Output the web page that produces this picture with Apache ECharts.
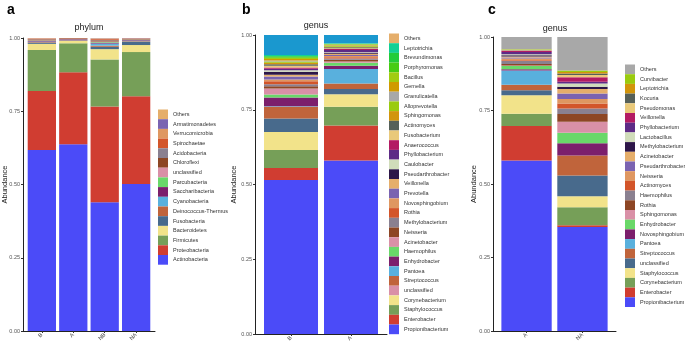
<!DOCTYPE html>
<html>
<head>
<meta charset="utf-8">
<script src="https://cdn.jsdelivr.net/npm/echarts@6/dist/echarts.min.js"></script>
<style>
html, body { margin: 0; background: #fff; }
#chart { width: 685px; height: 346px; }
</style>
</head>
<body>
<div id="chart"></div>
<script>
// taxa are listed bottom -> top of the stack
const phylumSamples = ['B', 'A', 'NB', 'NA'];
const phyla = ['Actinobacteria', 'Proteobacteria', 'Firmicutes', 'Bacteroidetes', 'Fusobacteria',
  'Deinococcus-Thermus', 'Cyanobacteria', 'Saccharibacteria', 'Parcubacteria', 'unclassified',
  'Chloroflexi', 'Acidobacteria', 'Spirochaetae', 'Verrucomicrobia', 'Armatimonadetes', 'Others'];
const phylumB  = [0.618, 0.201, 0.140, 0.021, 0.004, 0.002, 0.002, 0.002, 0.001, 0.001, 0.003, 0.001, 0.002, 0.0005, 0.0005, 0.001];
const phylumA  = [0.637, 0.246, 0.099, 0.008, 0.001, 0.001, 0.0005, 0.003, 0.0005, 0.0005, 0.002, 0.0005, 0.001, 0, 0, 0];
const phylumNB = [0.439, 0.327, 0.161, 0.035, 0.008, 0.004, 0.007, 0.003, 0.002, 0.002, 0.004, 0.002, 0.003, 0.001, 0.001, 0.001];
const phylumNA = [0.502, 0.299, 0.151, 0.024, 0.011, 0.002, 0.002, 0.002, 0.001, 0.001, 0.002, 0.001, 0.001, 0.0005, 0.0005, 0];

const genusBSamples = ['B', 'A'];
const generaB = ['Propionibacterium', 'Enterobacter', 'Staphylococcus', 'Corynebacterium', 'unclassified',
  'Streptococcus', 'Pantoea', 'Enhydrobacter', 'Haemophilus', 'Acinetobacter', 'Neisseria',
  'Methylobacterium', 'Rothia', 'Novosphingobium', 'Prevotella', 'Veillonella', 'Pseudarthrobacter',
  'Caulobacter', 'Phyllobacterium', 'Anaerococcus', 'Fusobacterium', 'Actinomyces', 'Sphingomonas',
  'Alloprevotella', 'Granulicatella', 'Gemella', 'Bacillus', 'Porphyromonas', 'Brevundimonas',
  'Leptotrichia', 'Others'];
const genusB_B = [0.515, 0.040, 0.060, 0.061, 0.045, 0.039, 0.002, 0.029, 0.010, 0.020, 0.008,
  0.006, 0.010, 0.006, 0.010, 0.006, 0.010, 0.005, 0.005, 0.004, 0.006, 0.005, 0.005,
  0.004, 0.004, 0.005, 0.004, 0.003, 0.003, 0.003, 0.067];
const genusB_A = [0.580, 0.117, 0.063, 0.042, 0.017, 0.019, 0.048, 0.011, 0.010, 0.004, 0.006,
  0.004, 0.005, 0.004, 0.003, 0.004, 0.003, 0.002, 0.008, 0.003, 0.003, 0.003, 0.002,
  0.002, 0.002, 0.002, 0.002, 0.001, 0.001, 0.001, 0.028];

const genusCSamples = ['A', 'NA'];
const generaC = ['Propionibacterium', 'Enterobacter', 'Corynebacterium', 'Staphylococcus', 'unclassified',
  'Streptococcus', 'Pantoea', 'Novosphingobium', 'Enhydrobacter', 'Sphingomonas', 'Rothia',
  'Haemophilus', 'Actinomyces', 'Neisseria', 'Pseudarthrobacter', 'Acinetobacter', 'Methylobacterium',
  'Lactobacillus', 'Phyllobacterium', 'Veillonella', 'Pseudomonas', 'Kocuria', 'Leptotrichia',
  'Curvibacter', 'Others'];
const genusC_A  = [0.580, 0.117, 0.042, 0.063, 0.017, 0.019, 0.048, 0.004, 0.011, 0.002, 0.005,
  0.010, 0.003, 0.006, 0.003, 0.004, 0.004, 0.003, 0.008, 0.004, 0.002, 0.001, 0.001, 0.001, 0.042];
const genusC_NA = [0.354, 0.006, 0.061, 0.037, 0.071, 0.068, 0.000, 0.042, 0.035, 0.038, 0.026,
  0.019, 0.017, 0.015, 0.019, 0.015, 0.008, 0.011, 0.006, 0.015, 0.008, 0.005, 0.005, 0.005, 0.114];

// same colour order for every panel, bottom -> top
const palette = ['#4b4bf8', '#d03d31', '#769f58', '#f2e38a', '#486a8c', '#c0643b', '#59b0dd', '#7c1f6c',
  '#69d869', '#d990a7', '#8d4624', '#8a8090', '#d3552a', '#df9761', '#7a63b1', '#e5ae6b', '#2d1648',
  '#d0dcba', '#5e2b86', '#b31b63', '#e9c97a', '#566059', '#d2950c', '#9acb10', '#a8a8a8', '#d09a00',
  '#a1cc12', '#46cc14', '#22cc3a', '#12d095', '#1a98cf'];

const FONT = 'Liberation Sans, Arial, sans-serif';

// visible frame of each panel (ggplot style: 0.6 category of padding on both sides)
const panels = [
  { left: 23, top: 38, width: 132, height: 293, cats: phylumSamples, nameGap: 14 },
  { left: 255, top: 35, width: 132, height: 299, cats: genusBSamples, nameGap: 17 },
  { left: 493, top: 37, width: 123, height: 294, cats: genusCSamples, nameGap: 15 }
];

const grids = [], xAxes = [], yAxes = [], series = [];

panels.forEach(function (p, gi) {
  const n = p.cats.length;
  const ticks = p.cats.map(function (c, i) { return i + 1; });
  grids.push({ left: p.left, top: p.top, width: p.width, height: p.height });
  xAxes.push({
    type: 'value', gridIndex: gi, min: 0.4, max: n + 0.6,
    axisLine: { show: true, lineStyle: { color: '#222', width: 1 } },
    axisTick: { show: true, length: 2, customValues: ticks, lineStyle: { color: '#333' } },
    axisLabel: {
      customValues: ticks, rotate: 45, fontSize: 5.5, color: '#444', fontFamily: FONT, margin: 3,
      formatter: function (v) { return p.cats[Math.round(v) - 1]; }
    },
    splitLine: { show: false }
  });
  yAxes.push({
    type: 'value', gridIndex: gi, min: 0, max: 1, interval: 0.25,
    name: 'Abundance', nameLocation: 'middle', nameGap: p.nameGap, nameMoveOverlap: false,
    nameTextStyle: { fontSize: 7.5, color: '#222', fontFamily: FONT },
    axisLine: { show: true, lineStyle: { color: '#222', width: 1 } },
    axisTick: { show: true, length: 2, lineStyle: { color: '#333' } },
    axisLabel: { fontSize: 5.5, color: '#555', fontFamily: FONT, margin: 3,
      formatter: function (v) { return v.toFixed(2); } },
    splitLine: { show: false }
  });
});

// hidden category grids that carry the stacked bars
panels.forEach(function (p, gi) {
  const n = p.cats.length;
  const unit = p.width / (n + 0.2);
  grids.push({ left: p.left + 0.1 * unit, top: p.top, width: n * unit, height: p.height });
  xAxes.push({ type: 'category', gridIndex: 3 + gi, data: p.cats, show: false });
  yAxes.push({ type: 'value', gridIndex: 3 + gi, min: 0, max: 1, show: false, splitLine: { show: false } });
});

function addPanel(names, values, gi, tag) {
  names.forEach(function (n, i) {
    series.push({
      name: n + tag,
      type: 'bar',
      stack: 'p' + gi,
      xAxisIndex: 3 + gi,
      yAxisIndex: 3 + gi,
      barWidth: '90%',
      itemStyle: { color: palette[i] },
      data: values.map(function (v) { return v[i]; })
    });
  });
}
addPanel(phyla, [phylumB, phylumA, phylumNB, phylumNA], 0, '');
addPanel(generaB, [genusB_B, genusB_A], 1, '');
addPanel(generaC, [genusC_A, genusC_NA], 2, '#c');

function legendFor(names, left, top, tag) {
  return {
    orient: 'vertical', left: left, top: top, itemWidth: 10, itemHeight: 9.7, itemGap: 0,
    icon: 'rect', padding: 0, selectedMode: false,
    textStyle: { fontSize: 5.5, color: '#333', fontFamily: FONT, lineHeight: 9.7 },
    formatter: function (n) { return n.split('#')[0]; },
    data: names.slice().reverse().map(function (n) { return n + tag; })
  };
}

const chart = echarts.init(document.getElementById('chart'));
chart.setOption({
  animation: false,
  backgroundColor: '#fff',
  grid: grids,
  xAxis: xAxes,
  yAxis: yAxes,
  legend: [
    legendFor(phyla, 158, 109.5, ''),
    legendFor(generaB, 389, 33.5, ''),
    legendFor(generaC, 625, 64.5, '#c')
  ],
  graphic: [
    { type: 'text', x: 7, y: 3, style: { text: 'a', font: 'bold 14px ' + FONT, fill: '#000' } },
    { type: 'text', x: 242, y: 3, style: { text: 'b', font: 'bold 14px ' + FONT, fill: '#000' } },
    { type: 'text', x: 488, y: 3, style: { text: 'c', font: 'bold 14px ' + FONT, fill: '#000' } },
    { type: 'text', x: 89, y: 28, style: { text: 'phylum', font: '9px ' + FONT, fill: '#222', textAlign: 'center', textVerticalAlign: 'middle' } },
    { type: 'text', x: 316, y: 26, style: { text: 'genus', font: '9px ' + FONT, fill: '#222', textAlign: 'center', textVerticalAlign: 'middle' } },
    { type: 'text', x: 555, y: 29, style: { text: 'genus', font: '9px ' + FONT, fill: '#222', textAlign: 'center', textVerticalAlign: 'middle' } }
  ],
  series: series
});
</script>
</body>
</html>
